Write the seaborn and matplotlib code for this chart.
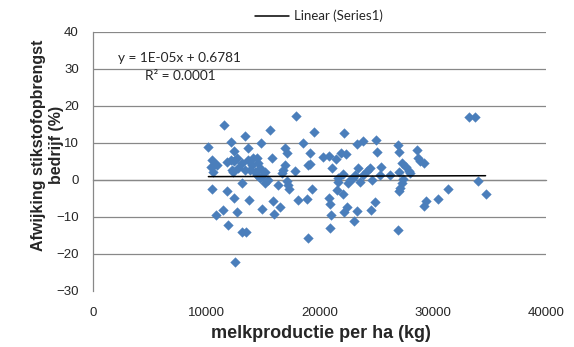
import numpy as np
import pandas as pd
import matplotlib
matplotlib.use("Agg")
import matplotlib.pyplot as plt
from matplotlib.lines import Line2D
import seaborn as sns

# Milk production per hectare (kg) per farm
melk_per_ha = [
    10208, 10561, 10799, 10446, 10649, 10949, 10561, 10888, 11479, 11594,
    11832, 11832, 11973, 12185, 12185, 12274, 12415, 12503, 12503, 12477,
    12565, 12768, 12715, 12857, 13157, 13157, 13157, 13510, 13448, 13448,
    13687, 13740, 13802, 13890, 14040, 14331, 14481, 14596, 14773, 14861,
    14949, 14923, 15214, 15214, 15453, 14155, 14481, 15656, 15806, 15947,
    16009, 16389, 16539, 16689, 16830, 16980, 16980, 17130, 17130, 17271,
    17360, 17863, 17951, 18155, 18543, 18896, 18967, 19011, 19188, 19188,
    19338, 19515, 20363, 20884, 20822, 20954, 21015, 20954, 21104, 21457,
    21546, 21634, 21687, 21952, 22058, 22129, 22146, 22190, 22367, 22429,
    22570, 22720, 23011, 23100, 23162, 23339, 23365, 23400, 23603, 23895,
    23895, 24195, 24486, 24548, 24636, 24954, 25016, 25078, 25369, 25484,
    26252, 26914, 26985, 26985, 26932, 26985, 27109, 27285, 27374, 27285,
    27603, 27912, 28018, 28574, 28680, 28901, 29193, 29193, 29431, 30473,
    31356, 33210, 33713, 33996, 34667, 14773,
]

# Deviation of the farm's nitrogen yield (%)
afwijking_n = [
    8.8, 5.3, 4.3, 3.5, 2.1, 3.9, -2.6, -9.6, -8.2, 14.7,
    4.8, -3.0, -12.3, 10.1, 5.3, 2.6, 2.1, 7.8, 5.0, -4.9,
    -22.2, -8.7, 5.7, 3.0, 4.4, -1.0, -14.1, -14.1, 11.8, 2.6,
    5.3, 8.4, -5.5, 2.6, 3.9, 2.1, 5.7, 4.5, 3.0, 9.8,
    0.9, -8.1, 2.1, -1.0, -0.1, 5.8, 1.2, 13.4, 5.9, -5.8,
    -9.3, -1.5, -7.4, 1.7, 2.6, 3.9, 8.4, 7.1, -0.5, -1.5,
    -2.5, 2.4, 17.2, -5.5, 10.0, -5.4, -15.8, 3.9, 7.2, 4.1,
    -2.6, 12.8, 6.2, 6.3, -4.9, -6.6, -9.7, -13.0, 3.0, 5.5,
    -2.8, -0.6, 0.3, 7.1, -3.8, 1.4, -8.7, 12.6, 6.9, -7.4,
    -1.0, -0.1, 0.3, -11.2, 1.2, 9.5, -8.4, 3.0, -0.6, 10.3,
    1.2, 2.4, 3.0, -8.3, -0.1, -6.2, 10.7, 7.5, 1.2, 3.5,
    1.2, 9.2, 7.5, 2.0, -13.6, -3.1, -2.2, -1.0, 0.2, 4.4,
    3.5, 2.4, 1.7, 7.9, 5.7, 5.1, 4.4, -7.2, -5.9, -5.4,
    -2.6, 17.0, 17.0, -0.3, -3.8, 0.3,
]

# Linear trend line as reported
trend_slope = 1e-05
trend_intercept = 0.6781
trend_r2 = 0.0001

x_ticks = [0, 10000, 20000, 30000, 40000]
y_ticks = [-30, -20, -10, 0, 10, 20, 30, 40]

df = pd.DataFrame({"melk": melk_per_ha, "afwijking": afwijking_n})

x_line = np.array([df["melk"].min(), df["melk"].max()])
trend = pd.DataFrame({"melk": x_line, "afwijking": trend_slope * x_line + trend_intercept})

sns.set_style("white")
plt.rcParams["font.family"] = ["Liberation Sans", "DejaVu Sans"]

fig = plt.figure(figsize=(5.74, 3.47), dpi=100)
ax = fig.add_axes([92.7 / 574, 1 - 290.5 / 347, (546 - 92.7) / 574, (290.5 - 31.5) / 347])

grid_color = "#888888"
for yv in y_ticks:
    ax.axhline(yv, color=grid_color, lw=0.9, zorder=0)

sns.scatterplot(data=df, x="melk", y="afwijking", marker="D", s=24,
                color="#4A7EBB", edgecolor="#4A7EBB", linewidth=0.3, ax=ax, zorder=3)
sns.lineplot(data=trend, x="melk", y="afwijking", color="black", lw=1.1, ax=ax, zorder=4)

ax.set_xlim(0, 40000)
ax.set_ylim(-30, 40)
ax.set_xticks(x_ticks)
ax.set_yticks(y_ticks)
ax.set_xlabel("")
ax.set_ylabel("")

for s in ["top", "right"]:
    ax.spines[s].set_visible(False)
ax.spines["left"].set_color(grid_color)
ax.spines["left"].set_linewidth(0.9)
# horizontal axis crosses at zero
ax.spines["bottom"].set_position(("data", 0))
ax.spines["bottom"].set_color(grid_color)
ax.spines["bottom"].set_linewidth(0.9)
ax.tick_params(axis="x", direction="out", length=4, width=0.9, color=grid_color, labelbottom=False)
ax.tick_params(axis="y", direction="out", length=4, width=0.9, color=grid_color, labelsize=9.5, pad=6)

sec = ax.secondary_xaxis(0.0)
sec.set_xticks(x_ticks)
sec.set_xticklabels([str(v) for v in x_ticks])
sec.tick_params(axis="x", length=0, labelsize=9.5, pad=12)
sec.spines["bottom"].set_visible(False)

fig.text(321 / 574, 1 - 334 / 347, "melkproductie per ha (kg)", ha="center", va="center",
         fontsize=13, fontweight="bold")
# y-axis title on two lines
fig.text(38.5 / 574, 1 - 145 / 347, "Afwijking stikstofopbrengst", ha="center",
         va="center", rotation=90, fontsize=11.5, fontweight="bold")
fig.text(57 / 574, 1 - 145 / 347, "bedrijf (%)", ha="center",
         va="center", rotation=90, fontsize=11.5, fontweight="bold")

fig.text(118 / 574, 1 - 58 / 347, f"y = 1E-05x + {trend_intercept}", ha="left", va="center",
         fontsize=9.8, family=["Lato", "DejaVu Sans"])
fig.text(145 / 574, 1 - 76 / 347, f"R² = {trend_r2:.4f}", ha="left", va="center",
         fontsize=9.8, family=["Lato", "DejaVu Sans"])

handle = Line2D([], [], color="black", lw=1.1)
fig.legend([handle], ["Linear (Series1)"], loc="center", bbox_to_anchor=(319 / 574, 1 - 16 / 347),
           frameon=False, handlelength=2.6, handletextpad=0.4,
           prop={"family": ["Lato", "DejaVu Sans"], "size": 9.5})

fig.savefig("out.png", dpi=100)
